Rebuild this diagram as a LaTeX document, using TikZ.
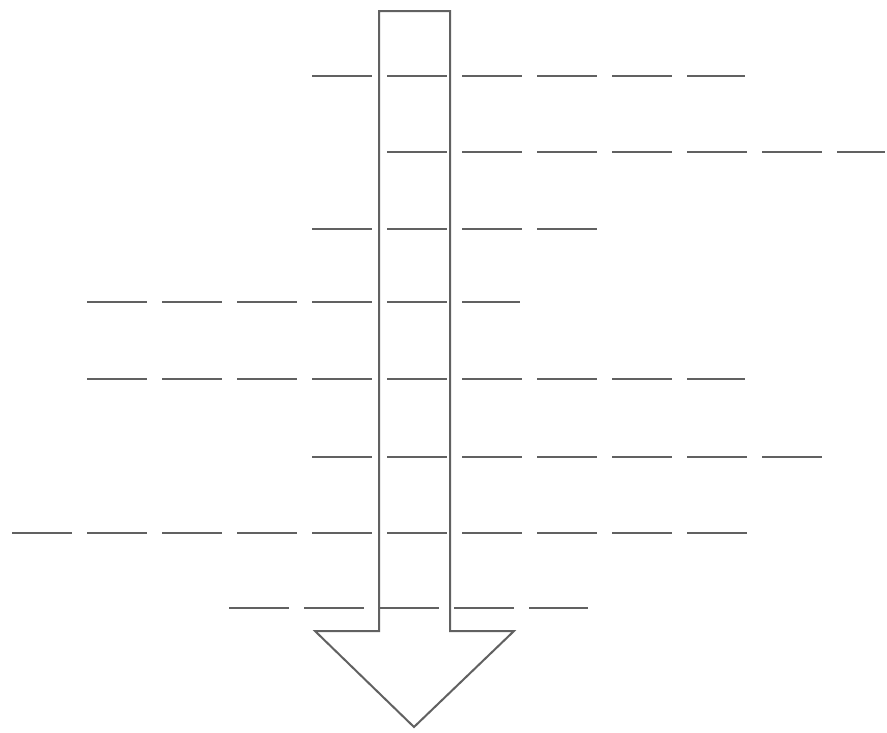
\documentclass[tikz,border=0pt]{standalone}
\begin{document}
\begin{tikzpicture}[x=1pt,y=-1pt,
  blank/.style={draw=black!62, line width=2pt, dash pattern=on 60pt off 15pt},
  bigarrow/.style={draw=black!62, line width=2pt, line join=miter}]
\useasboundingbox (0,0) rectangle (887,732);
\fill[white] (0,0) rectangle (887,732);
% arrow outline
\draw[bigarrow] (379,11) -- (450,11) -- (450,631) -- (514,631) -- (414,727)
  -- (315,631) -- (379,631) -- cycle;
% dashed blanks
\foreach \a/\b/\y in {312/745/76, 387/885/152, 312/597/229, 87/520/302,
                      87/745/379, 312/822/457, 12/748/533, 229/588/608}{
  \coordinate (s\y) at (\a,\y);
  \coordinate (e\y) at (\b,\y);
  \draw[blank] (s\y) -- (e\y);
}
\end{tikzpicture}
\end{document}
